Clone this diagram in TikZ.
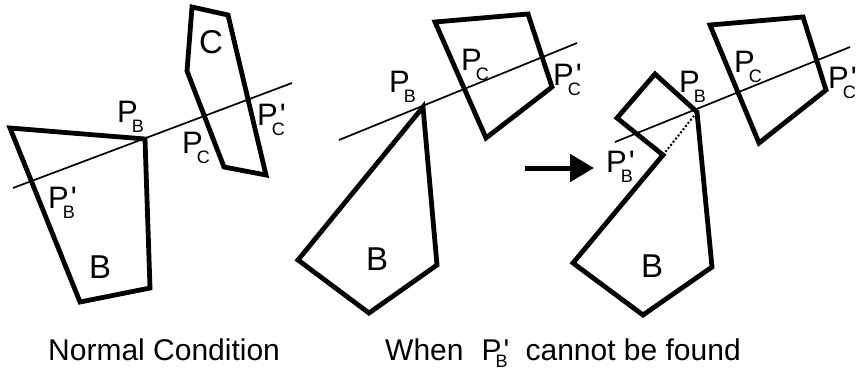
\documentclass[tikz,border=0pt]{standalone}
\usepackage{fontspec}
\setmainfont{Liberation Sans}[Ligatures=TeXOff]
\usetikzlibrary{arrows.meta}
\newcommand\subf{\fontsize{18}{18}\selectfont}
\newcommand\Pl[2]{P\kern-6pt\rlap{\kern8pt #2}\raisebox{-10pt}{\subf #1}}
\newcommand\Pcap[2]{P\kern-6pt\rlap{\kern8pt #2}\raisebox{-7pt}{\subf #1}}
\tikzset{
  poly/.style={line width=4.8pt, line join=miter},
  axis/.style={line width=1.7pt},
  lab/.style={anchor=base west, inner sep=0pt, font=\fontsize{31}{31}\selectfont},
  big/.style={anchor=base west, inner sep=0pt, font=\fontsize{33}{33}\selectfont},
  captext/.style={anchor=base west, inner sep=0pt, font=\fontsize{30}{30}\selectfont},
}
\begin{document}
\begin{tikzpicture}[x=1pt,y=-1pt]
\useasboundingbox (0,0) rectangle (857,373);
% ---------- panel 1 ----------
\coordinate (l1a) at (13,188); \coordinate (l1b) at (292,83);
\draw[axis] (l1a) -- (l1b);
\draw[poly] (10,128) -- (145,139) -- (150,288) -- (80,302) -- cycle;
\draw[poly] (192,7) -- (228,15) -- (266,175) -- (224,167) -- (187,71) -- cycle;
\node[lab] (pb1) at (117,122) {\Pl{B}{}};
\node[lab] (pc1) at (182,153) {\Pl{C}{}};
\node[lab] (pcp1) at (257,125) {\Pl{C}{'}};
\node[lab] (pbp1) at (48,208) {\Pl{B}{'}};
\node[big] (c1) at (199,53) {C};
\node[big] (b1) at (89,278) {B};
% ---------- panel 2 ----------
\coordinate (l2a) at (339,140); \coordinate (l2b) at (577,43);
\draw[axis] (l2a) -- (l2b);
\draw[poly] (423,107) -- (437,265) -- (369,313) -- (298,260) -- cycle;
\draw[poly] (435,22) -- (528,14) -- (552,87) -- (486,138) -- cycle;
\node[lab] (pb2) at (389,92) {\Pl{B}{}};
\node[lab] (pc2) at (461,70) {\Pl{C}{}};
\node[lab] (pcp2) at (553,85) {\Pl{C}{'}};
\node[big] (b2) at (366,270) {B};
% ---------- arrow ----------
\coordinate (ar1) at (525,168); \coordinate (ar2) at (594,168);
\draw[line width=5pt, -{Triangle[length=24pt,width=27pt]}] (ar1) -- (ar2);
% ---------- panel 3 ----------
\coordinate (l3a) at (615,142); \coordinate (l3b) at (850,47);
\draw[axis] (l3a) -- (l3b);
\draw[poly] (697,112) -- (712,267) -- (643,315) -- (573,263) -- (663,155) -- (617,118) -- (655,74) -- cycle;
\draw[line width=2pt, dotted] (663,155) -- (697,112);
\draw[poly] (710,25) -- (803,17) -- (826,90) -- (759,143) -- cycle;
\node[lab] (pb3) at (679,92) {\Pl{B}{}};
\node[lab] (pc3) at (734,72) {\Pl{C}{}};
\node[lab] (pcp3) at (828,88) {\Pl{C}{'}};
\node[lab] (pbp3) at (606,172) {\Pl{B}{'}};
\node[big] (b3) at (641,277) {B};
% ---------- captions ----------
\node[captext] (cap1) at (48,360) {Normal Condition};
\node[captext] (cap2) at (385,360) {When\hspace{18pt}\Pcap{B}{'}\hspace{18pt}cannot be found};
\end{tikzpicture}
\end{document}
